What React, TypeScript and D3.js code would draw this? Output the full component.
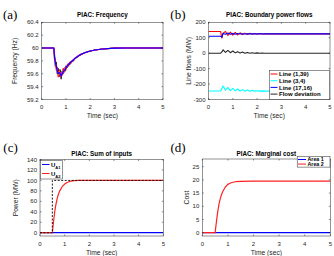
import React from "react";
import * as d3 from "d3";

// (a) frequency of generators
const tFreq = [0, 0.5, 0.53, 0.56, 0.6, 0.64, 0.68, 0.72, 0.76, 0.8, 0.84, 0.88, 0.92, 0.96, 1.0, 1.05, 1.1, 1.15, 1.2, 1.3, 1.4, 1.5, 1.6, 1.8, 2.0, 2.2, 2.5, 3.0, 3.5, 5.0];
const freqBlack = [60, 60, 59.9, 59.72, 59.78, 59.6, 59.68, 59.56, 59.66, 59.52, 59.64, 59.6, 59.68, 59.64, 59.72, 59.7, 59.76, 59.74, 59.79, 59.8, 59.85, 59.87, 59.9, 59.93, 59.955, 59.97, 59.985, 59.998, 60, 60];
const freqRed = [60, 60, 59.8, 59.83, 59.66, 59.7, 59.55, 59.66, 59.56, 59.6, 59.58, 59.68, 59.62, 59.7, 59.66, 59.74, 59.72, 59.78, 59.76, 59.82, 59.84, 59.88, 59.89, 59.93, 59.955, 59.97, 59.985, 59.998, 60, 60];
const freqOrange = [60, 60, 59.82, 59.76, 59.7, 59.64, 59.58, 59.64, 59.58, 59.58, 59.62, 59.65, 59.64, 59.68, 59.68, 59.72, 59.74, 59.76, 59.78, 59.81, 59.85, 59.87, 59.9, 59.93, 59.955, 59.97, 59.985, 59.998, 60, 60];
const freqMagenta = [60, 60, 59.86, 59.8, 59.7, 59.68, 59.6, 59.6, 59.62, 59.56, 59.62, 59.62, 59.66, 59.66, 59.7, 59.71, 59.75, 59.76, 59.78, 59.82, 59.85, 59.88, 59.9, 59.93, 59.955, 59.97, 59.985, 59.998, 60, 60];
const freqBlue = [60, 60, 59.85, 59.78, 59.72, 59.65, 59.6, 59.62, 59.6, 59.57, 59.6, 59.63, 59.65, 59.66, 59.69, 59.72, 59.74, 59.76, 59.78, 59.81, 59.85, 59.87, 59.9, 59.93, 59.955, 59.97, 59.985, 59.998, 60, 60];

// (b) boundary power flows
const tFlow = [0, 0.5, 0.55, 0.6, 0.7, 0.8, 0.9, 1.0, 1.1, 1.2, 1.3, 1.4, 1.5, 1.6, 1.7, 1.8, 1.9, 2.0, 2.1, 2.2, 2.3, 2.5, 5.0];
const flow139 = [140, 140, 98, 130, 140, 115, 136, 117, 134, 118, 132, 120, 130, 121, 129, 122, 128, 123, 127, 124, 126, 125, 125];
const flow34 = [-245, -245, -230, -212, -240, -222, -243, -228, -244, -232, -245, -236, -246, -239, -246, -241, -246, -243, -246, -244, -246, -246, -247];
const flow1716 = [110, 110, 104, 128, 122, 130, 122, 128, 123, 127, 124, 126, 124.5, 125.5, 125, 125, 125, 125, 125, 125, 125, 125, 125];
const flowDev = [0, 0, 8, 22, 5, 18, 3, 14, 2, 10, 1, 7, 0, 5, 0, 3, 0, 2, 0, 1, 0, 0, 0];

// (c) sum of inputs
const tInput = [0, 0.5, 0.55, 0.6, 0.65, 0.7, 0.75, 0.8, 0.9, 1.0, 1.1, 1.2, 1.3, 1.4, 1.6, 2.0, 5.0];
const inputA1 = [0, 0, 0, 0, 0, 0, 0, 0, 0, 0, 0, 0, 0, 0, 0, 0, 0];
const inputA2 = [0, 0, 22, 41, 55, 66, 74, 80, 88, 93, 96, 98, 99, 99.5, 100, 100, 100];
const tStep = [0, 0.5, 0.5, 5];
const stepLoad = [0, 0, 100, 100];

// (d) marginal cost
const tCost = [0, 0.5, 0.55, 0.6, 0.65, 0.7, 0.75, 0.8, 0.9, 1.0, 1.1, 1.2, 1.3, 1.5, 2.0, 5.0];
const costA1 = [0, 0, 0, 0, 0, 0, 0, 0, 0, 0, 0, 0, 0, 0, 0, 0];
const costA2 = [0, 0, 4, 7.8, 10.7, 12.8, 14.4, 15.6, 17.3, 18.3, 18.8, 19.1, 19.3, 19.4, 19.5, 19.5];

const timeTicks = [0, 1, 2, 3, 4, 5];
const freqTicks = [59.2, 59.4, 59.6, 59.8, 60, 60.2, 60.4];
const flowTicks = [-300, -200, -100, 0, 100, 200];
const inputTicks = [0, 20, 40, 60, 80, 100, 120, 140];
const costTicks = [0, 5, 10, 15, 20, 25];

const AX = "#262626";
const SANS = "'Liberation Sans', Arial, sans-serif";

type Series = { t: number[]; v: number[]; color: string; width?: number; dash?: string };

function Panel(props: {
  id: string; left: number; right: number; top: number; bottom: number;
  yDomain: [number, number]; yTicks: number[]; title: string; ylabel: string; ylabelX: number;
  series: Series[]; tag: string; tagX: number; tagY: number; titleY: number;
  children?: (x: d3.ScaleLinear<number, number>, y: d3.ScaleLinear<number, number>) => React.ReactNode;
}) {
  const { left, right, top, bottom } = props;
  const x = d3.scaleLinear().domain([0, 5]).range([left, right]);
  const y = d3.scaleLinear().domain(props.yDomain).range([bottom, top]);
  const tk = 1.5;
  const fmt = (d: number) => String(+d.toFixed(1));
  return (
    <g>
      <defs>
        <clipPath id={"clip-" + props.id}>
          <rect x={left} y={top} width={right - left} height={bottom - top} />
        </clipPath>
      </defs>
      <rect x={left} y={top} width={right - left} height={bottom - top} fill="white" />
      <g clipPath={`url(#clip-${props.id})`}>
        {props.series.map((s, i) => {
          const line = d3.line<number>().x((_, j) => x(s.t[j])).y(d => y(d));
          return <path key={i} d={line(s.v) || ""} fill="none" stroke={s.color}
            strokeWidth={s.width ?? 1.1} strokeDasharray={s.dash} strokeLinejoin="round" />;
        })}
      </g>
      <rect x={left} y={top} width={right - left} height={bottom - top} fill="none" stroke={AX} strokeWidth={0.5} />
      {timeTicks.map(t => (
        <g key={"x" + t}>
          <line x1={x(t)} x2={x(t)} y1={bottom} y2={bottom - tk} stroke={AX} strokeWidth={0.5} />
          <line x1={x(t)} x2={x(t)} y1={top} y2={top + tk} stroke={AX} strokeWidth={0.5} />
          <text x={x(t)} y={bottom + 9.5} textAnchor="middle" fontSize={6} fontFamily={SANS} fill={AX}>{t}</text>
        </g>
      ))}
      {props.yTicks.map(v => (
        <g key={"y" + v}>
          <line x1={left} x2={left + tk} y1={y(v)} y2={y(v)} stroke={AX} strokeWidth={0.5} />
          <line x1={right} x2={right - tk} y1={y(v)} y2={y(v)} stroke={AX} strokeWidth={0.5} />
          <text x={left - 3} y={y(v) + 2.1} textAnchor="end" fontSize={6} fontFamily={SANS} fill={AX}>{fmt(v)}</text>
        </g>
      ))}
      <text x={(left + right) / 2} y={bottom + 18.5} textAnchor="middle" fontSize={6.7} fontFamily={SANS} fill={AX}>Time (sec)</text>
      <text transform={`translate(${props.ylabelX},${(top + bottom) / 2}) rotate(-90)`} textAnchor="middle"
        dominantBaseline="middle" fontSize={6.7} fontFamily={SANS} fill={AX}>{props.ylabel}</text>
      <text x={(left + right) / 2} y={props.titleY} textAnchor="middle" fontSize={6.3} fontWeight="bold" fontFamily={SANS} fill="#000">{props.title}</text>
      <text x={props.tagX} y={props.tagY} fontSize={13} fontFamily="'Liberation Serif', 'DejaVu Serif', serif" fill="#000">{props.tag}</text>
      {props.children ? props.children(x, y) : null}
    </g>
  );
}

function LegendRow(p: { x: number; y: number; color: string; label: React.ReactNode; size: number; len: number }) {
  return (
    <g>
      <line x1={p.x} x2={p.x + p.len} y1={p.y} y2={p.y} stroke={p.color} strokeWidth={1} />
      <text x={p.x + p.len + 1.5} y={p.y + p.size * 0.36} fontSize={p.size} fontWeight="bold" fontFamily={SANS} fill="#000">{p.label}</text>
    </g>
  );
}

export default function App() {
  return (
    <svg width={334} height={256} style={{ position: "absolute", left: 0, top: 0, background: "white" }}>
      <rect width={334} height={256} fill="white" />
      <Panel id="a" left={41.7} right={163} top={22.3} bottom={99.5} yDomain={[59.2, 60.4]} yTicks={freqTicks}
        title="PIAC: Frequency" ylabel="Frequency (Hz)" ylabelX={15.5} titleY={17} tag="(a)" tagX={3} tagY={18.5}
        series={[
          { t: tFreq, v: freqBlack, color: "#000000" },
          { t: tFreq, v: freqRed, color: "#ff0000" },
          { t: tFreq, v: freqOrange, color: "#ff8000" },
          { t: tFreq, v: freqMagenta, color: "#ff00ff" },
          { t: tFreq, v: freqBlue, color: "#0000ff" },
        ]} />
      <Panel id="b" left={208.5} right={330} top={22.3} bottom={99.5} yDomain={[-300, 200]} yTicks={flowTicks}
        title="PIAC: Boundary power flows" ylabel="Line flows (MW)" ylabelX={189.5} titleY={17} tag="(b)" tagX={170.3} tagY={18.5}
        series={[
          { t: tFlow, v: flow139, color: "#ff0000" },
          { t: tFlow, v: flow34, color: "#00ffff" },
          { t: tFlow, v: flow1716, color: "#0000ff" },
          { t: tFlow, v: flowDev, color: "#262626" },
        ]}>
        {() => (
          <g>
            <rect x={269.7} y={70.7} width={59.8} height={28.6} fill="white" stroke={AX} strokeWidth={0.5} />
            <LegendRow x={270.5} y={74} color="#ff0000" label="Line (1,39)" size={6} len={7} />
            <LegendRow x={270.5} y={80.7} color="#00ffff" label="Line (3,4)" size={6} len={7} />
            <LegendRow x={270.5} y={87.4} color="#0000ff" label="Line (17,16)" size={6} len={7} />
            <LegendRow x={270.5} y={94.1} color="#262626" label="Flow deviation" size={6} len={7} />
          </g>
        )}
      </Panel>
      <Panel id="c" left={40} right={163.3} top={159.5} bottom={236} yDomain={[-6.3, 140]} yTicks={inputTicks}
        title="PIAC: Sum of inputs" ylabel="Power (MW)" ylabelX={16} titleY={156} tag="(c)" tagX={3.3} tagY={151.5}
        series={[
          { t: tInput, v: inputA1, color: "#0000ff", width: 1.2 },
          { t: tInput, v: inputA2, color: "#ff2020", width: 1.2 },
          { t: tStep, v: stepLoad, color: "#000000", width: 0.9, dash: "2,1.5" },
        ]}>
        {() => (
          <g>
            <rect x={40.5} y={160.5} width={22} height={18.5} fill="white" stroke={AX} strokeWidth={0.5} />
            <LegendRow x={42} y={164.5} color="#0000ff" size={6}
              label={<>U<tspan fontSize={4} dy={2}>A1</tspan></>} len={7.5} />
            <LegendRow x={42} y={173.5} color="#ff2020" size={6}
              label={<>U<tspan fontSize={4} dy={2}>A2</tspan></>} len={7.5} />
          </g>
        )}
      </Panel>
      <Panel id="d" left={202.3} right={330.3} top={159} bottom={236} yDomain={[-1.25, 27.9]} yTicks={costTicks}
        title="PIAC: Marginal cost" ylabel="Cost" ylabelX={187} titleY={156} tag="(d)" tagX={170.5} tagY={152}
        series={[
          { t: tCost, v: costA1, color: "#0000ff", width: 1.2 },
          { t: tCost, v: costA2, color: "#ff2020", width: 1.2 },
        ]}>
        {() => (
          <g>
            <rect x={297.2} y={156.3} width={32.8} height={10.8} fill="white" stroke={AX} strokeWidth={0.5} />
            <LegendRow x={298} y={159.5} color="#0000ff" label="Area 1" size={5.3} len={8} />
            <LegendRow x={298} y={164.1} color="#ff2020" label="Area 2" size={5.3} len={8} />
          </g>
        )}
      </Panel>
    </svg>
  );
}
